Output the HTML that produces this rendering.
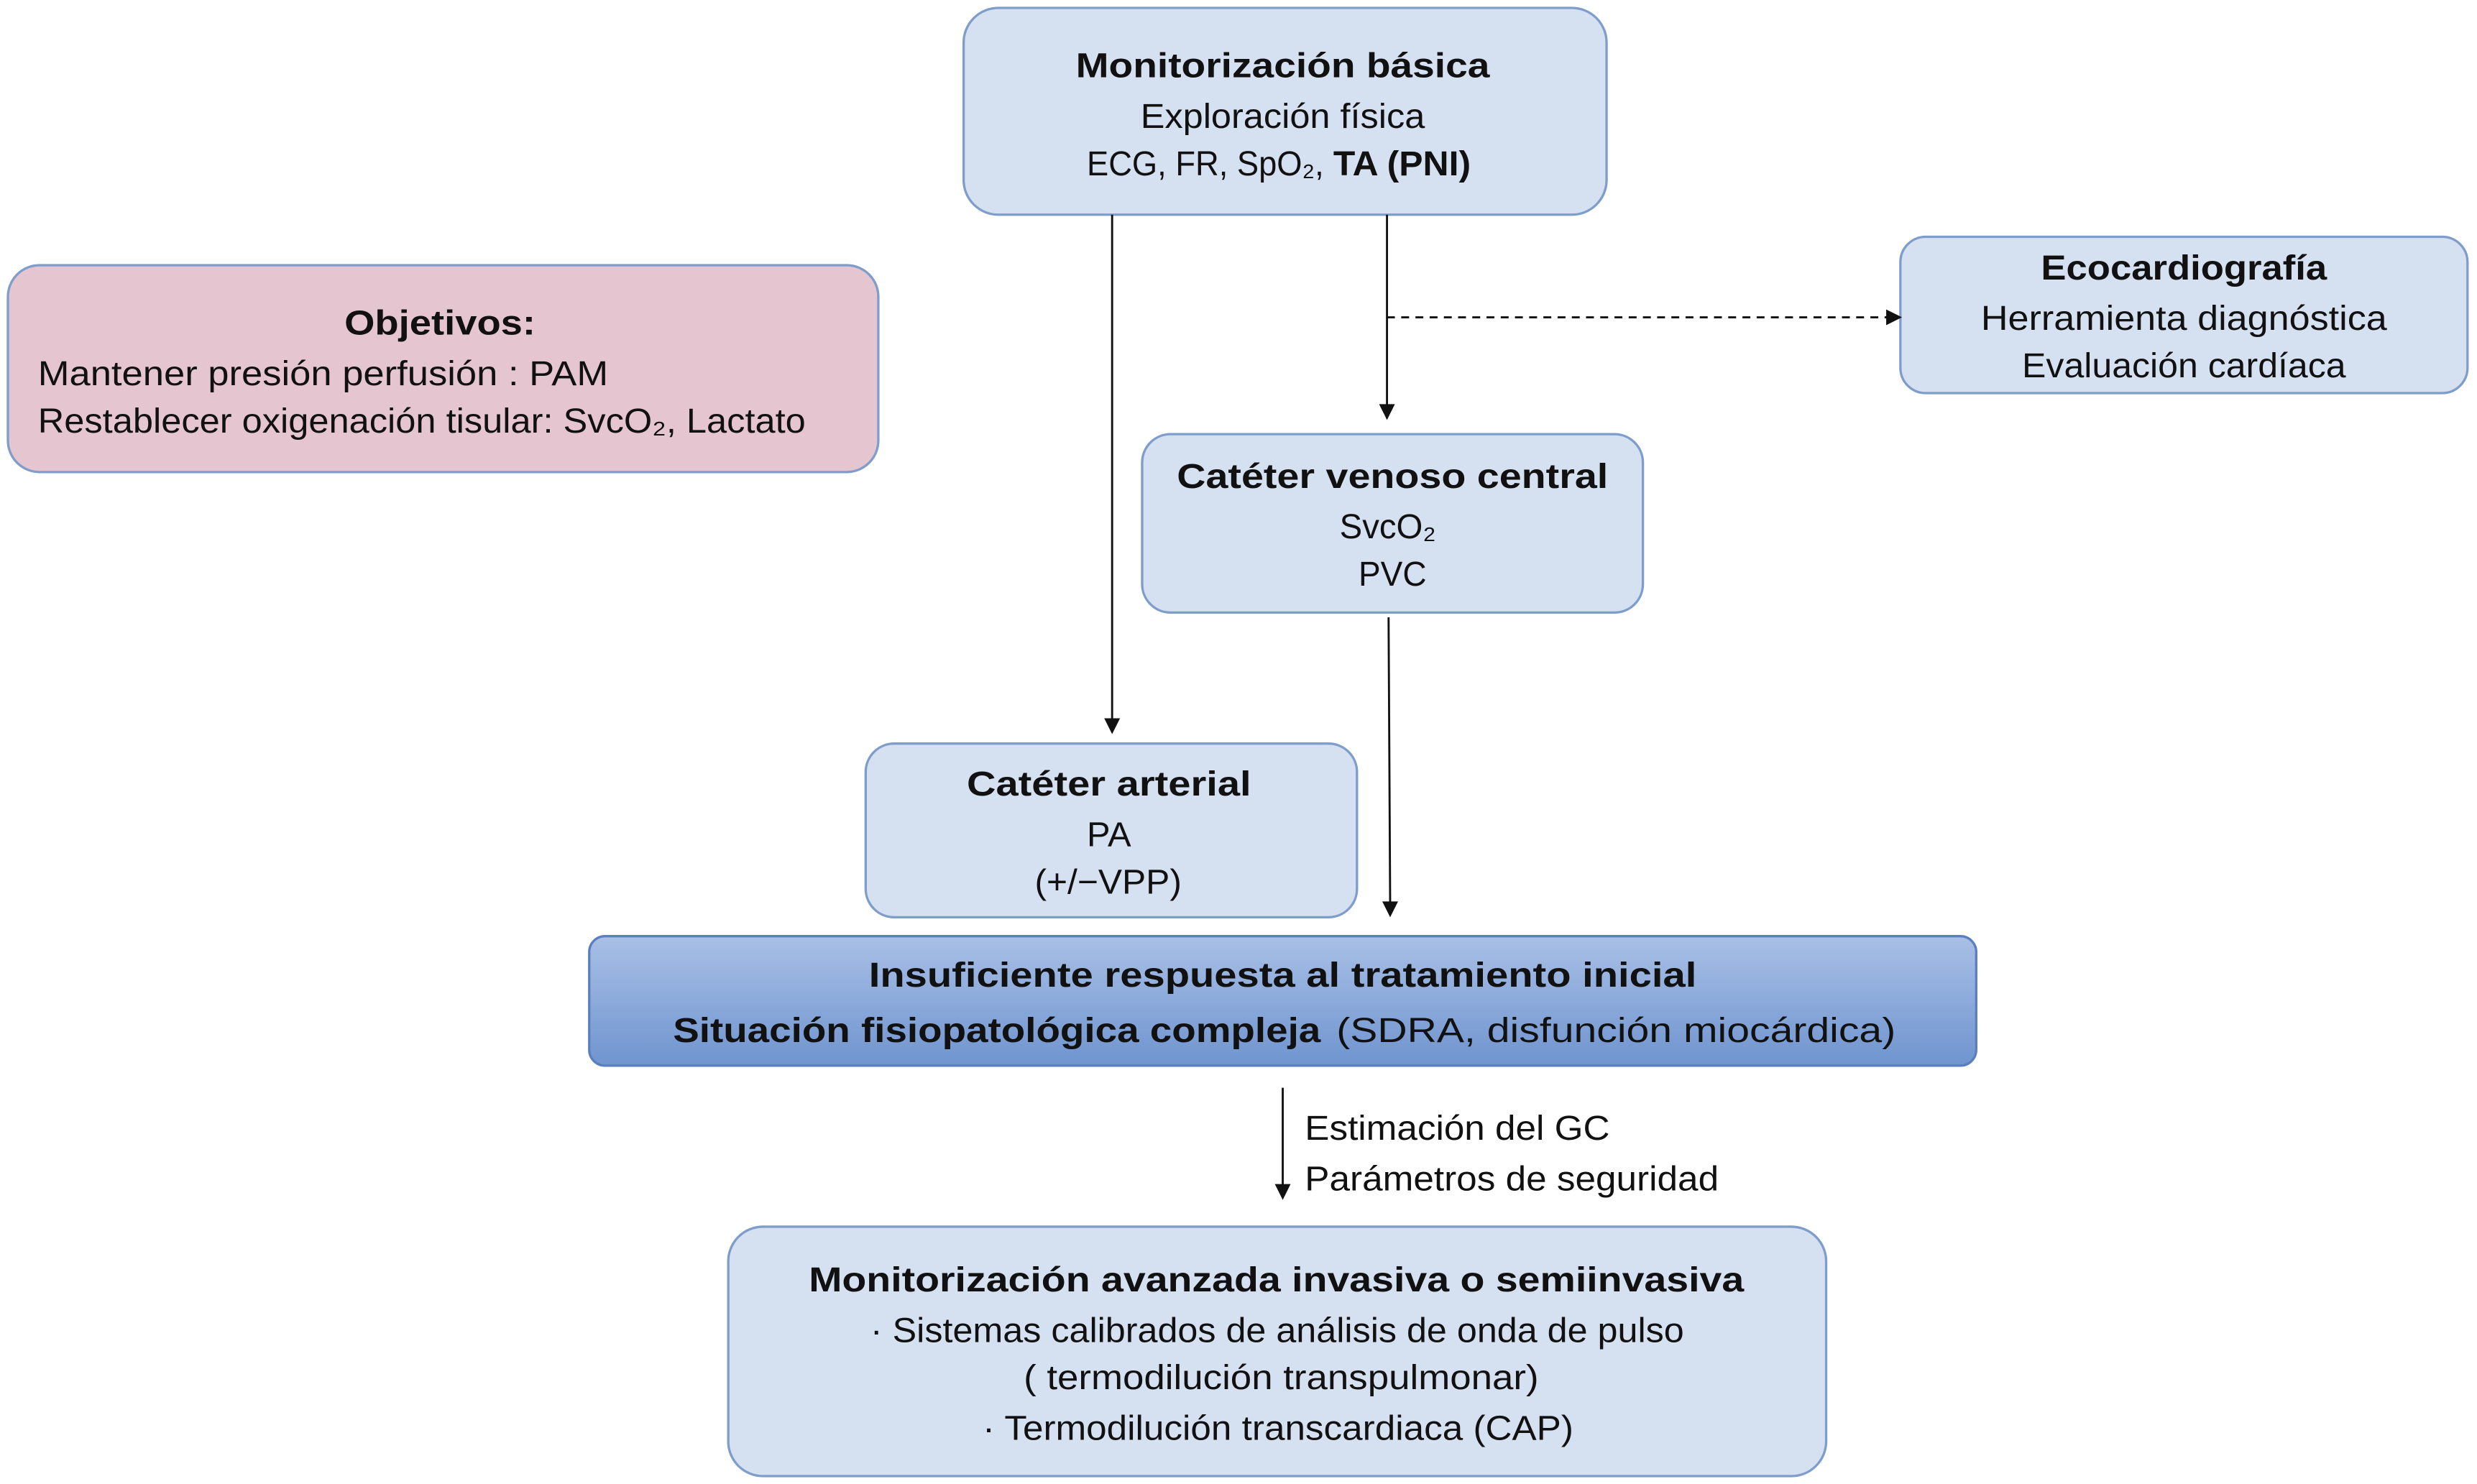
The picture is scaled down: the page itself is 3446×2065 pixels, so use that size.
<!DOCTYPE html>
<html><head><meta charset="utf-8"><style>html,body{margin:0;padding:0;background:#fff}svg{display:block}</style></head>
<body>
<svg width="3446" height="2065" viewBox="0 0 1568 940" preserveAspectRatio="none" xmlns="http://www.w3.org/2000/svg" font-family="Liberation Sans, DejaVu Sans, sans-serif" font-size="22" fill="#111">
<defs>
<linearGradient id="g" x1="0" y1="0" x2="0" y2="1"><stop offset="0" stop-color="#a9c0e6"/><stop offset="1" stop-color="#6f94cf"/></linearGradient>
<marker id="a" markerWidth="10" markerHeight="10" refX="5" refY="9" orient="auto" markerUnits="userSpaceOnUse"><path d="M0,0 L10,0 L5,10 z" fill="#111" transform="rotate(0)"/></marker>
</defs>
<g stroke="#7f9dcb" stroke-width="1.5">
<rect x="610" y="5" width="407" height="131" rx="22" fill="#d5e0f1"/>
<rect x="5" y="168" width="551" height="131" rx="20" fill="#e5c6d0"/>
<rect x="1203" y="150" width="359" height="99" rx="16" fill="#d5e0f1"/>
<rect x="723" y="275" width="317" height="113" rx="18" fill="#d5e0f1"/>
<rect x="548" y="471" width="311" height="110" rx="18" fill="#d5e0f1"/>
<rect x="373" y="593" width="878" height="82" rx="10" fill="url(#g)" stroke="#5a7fbd"/>
<rect x="461" y="777" width="695" height="158" rx="22" fill="#d5e0f1"/>
</g>
<g stroke="#111" stroke-width="1.3" fill="none">
<line x1="704" y1="136" x2="704" y2="463"/>
<line x1="878" y1="136" x2="878" y2="265"/>
<line x1="878" y1="201" x2="1195" y2="201" stroke-dasharray="5,4"/>
<line x1="879" y1="391" x2="880" y2="572"/>
<line x1="812" y1="689" x2="812" y2="752"/>
</g>
<g fill="#111">
<path d="M699,455 L709,455 L704,465 z"/>
<path d="M873,256 L883,256 L878,266 z"/>
<path d="M1194,196 L1194,206 L1204,201 z"/>
<path d="M875,571 L885,571 L880,581 z"/>
<path d="M807,750 L817,750 L812,760 z"/>
</g>
<g lengthAdjust="spacingAndGlyphs">
<text x="681" y="49" textLength="262" lengthAdjust="spacingAndGlyphs" font-weight="bold">Monitorización  básica</text>
<text x="722" y="81" textLength="180" lengthAdjust="spacingAndGlyphs">Exploración física</text>
<text x="688" y="111" textLength="150" lengthAdjust="spacingAndGlyphs">ECG, FR, SpO₂,</text>
<text x="844" y="111" textLength="87" lengthAdjust="spacingAndGlyphs" font-weight="bold">TA (PNI)</text>

<text x="218" y="212" textLength="121" lengthAdjust="spacingAndGlyphs" font-weight="bold">Objetivos:</text>
<text x="24" y="244" textLength="361" lengthAdjust="spacingAndGlyphs">Mantener presión perfusión : PAM</text>
<text x="24" y="274" textLength="486" lengthAdjust="spacingAndGlyphs">Restablecer oxigenación tisular: SvcO₂, Lactato</text>

<text x="1292" y="177" textLength="181" lengthAdjust="spacingAndGlyphs" font-weight="bold">Ecocardiografía</text>
<text x="1254" y="209" textLength="257" lengthAdjust="spacingAndGlyphs">Herramienta diagnóstica</text>
<text x="1280" y="239" textLength="205" lengthAdjust="spacingAndGlyphs">Evaluación cardíaca</text>

<text x="745" y="309" textLength="273" lengthAdjust="spacingAndGlyphs" font-weight="bold">Catéter venoso central</text>
<text x="848" y="341" textLength="61" lengthAdjust="spacingAndGlyphs">SvcO₂</text>
<text x="860" y="371" textLength="43" lengthAdjust="spacingAndGlyphs">PVC</text>

<text x="612" y="504" textLength="180" lengthAdjust="spacingAndGlyphs" font-weight="bold">Catéter arterial</text>
<text x="688" y="536" textLength="28" lengthAdjust="spacingAndGlyphs">PA</text>
<text x="655" y="566" textLength="93" lengthAdjust="spacingAndGlyphs">(+/−VPP)</text>

<text x="550" y="625" textLength="524" lengthAdjust="spacingAndGlyphs" font-weight="bold">Insuficiente respuesta al tratamiento inicial</text>
<text x="426" y="660" textLength="410" lengthAdjust="spacingAndGlyphs" font-weight="bold">Situación fisiopatológica compleja</text>
<text x="846" y="660" textLength="354" lengthAdjust="spacingAndGlyphs">(SDRA, disfunción miocárdica)</text>

<text x="826" y="722" textLength="193" lengthAdjust="spacingAndGlyphs">Estimación del  GC</text>
<text x="826" y="754" textLength="262" lengthAdjust="spacingAndGlyphs">Parámetros de seguridad</text>

<text x="512" y="818" textLength="592" lengthAdjust="spacingAndGlyphs" font-weight="bold">Monitorización  avanzada  invasiva o semiinvasiva</text>
<text x="551" y="850" textLength="515" lengthAdjust="spacingAndGlyphs">· Sistemas calibrados de análisis de onda de pulso</text>
<text x="648" y="880" textLength="326" lengthAdjust="spacingAndGlyphs">( termodilución transpulmonar)</text>
<text x="622" y="912" textLength="374" lengthAdjust="spacingAndGlyphs">· Termodilución transcardiaca (CAP)</text>
</g>
</svg>
</body></html>
